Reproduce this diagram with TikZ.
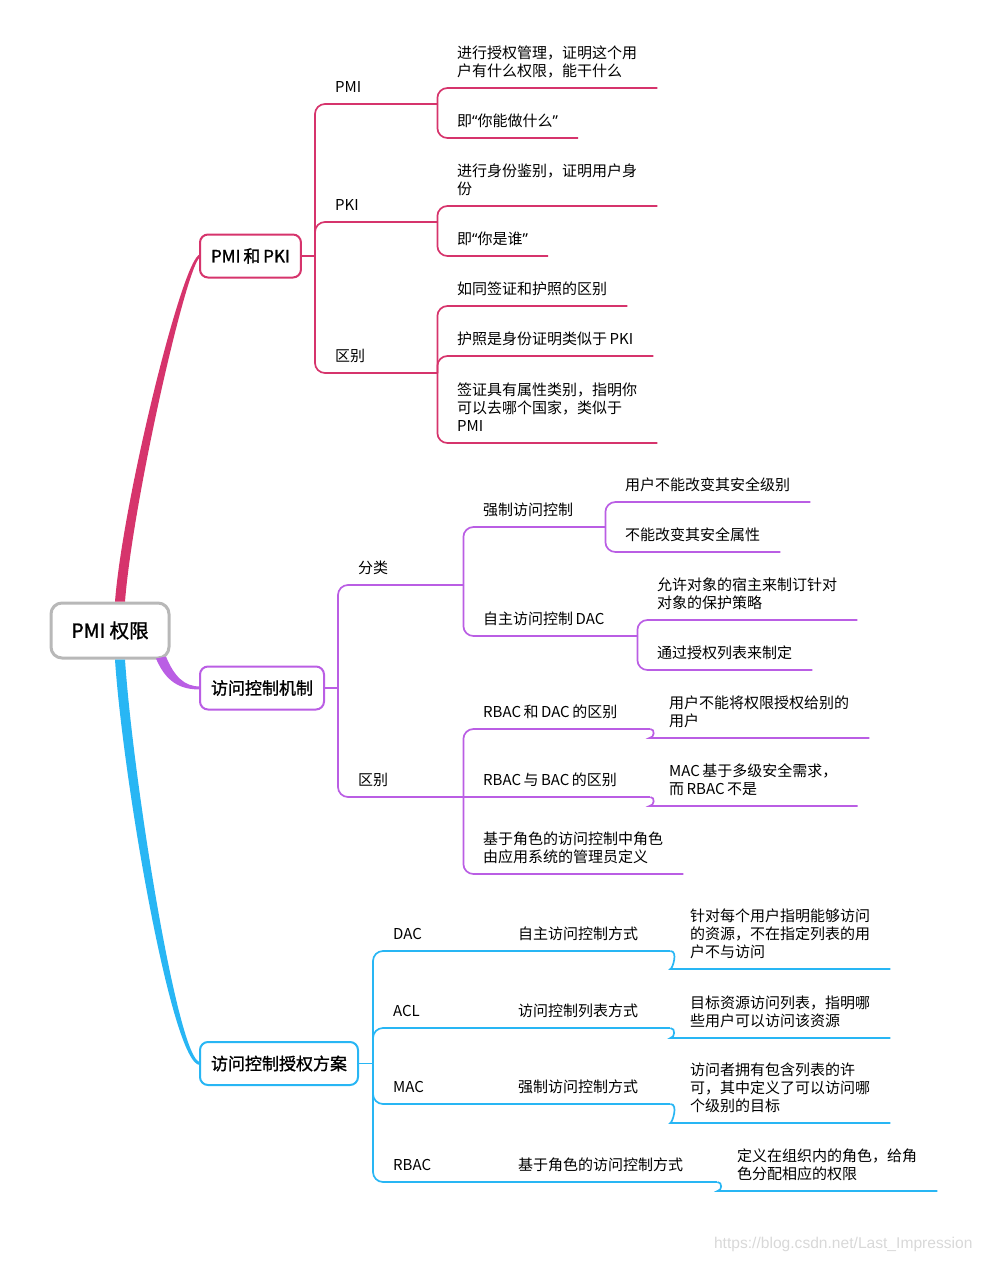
\documentclass[tikz,border=0pt]{standalone}
\usepackage{fontspec}
\setmainfont{Noto Sans CJK SC}
\newfontfamily\boxfont{Noto Sans CJK SC}[FakeBold=1.2]
\newfontfamily\qfont{Noto Sans}
\newfontfamily\wmfont{Liberation Sans}
\usetikzlibrary{calc}

\definecolor{pinkc}{RGB}{214,52,108}
\definecolor{purpc}{RGB}{186,94,228}
\definecolor{bluec}{RGB}{40,182,244}
\definecolor{rootc}{RGB}{184,184,184}
\definecolor{wmc}{RGB}{216,216,216}

\tikzset{
  leaf/.style={anchor=south west, inner xsep=20pt, inner ysep=5.5pt, align=left,
    font=\fontsize{15}{18}\selectfont, execute at end node=\strut},
  topic/.style={leaf, text width=#1},
  mainbox/.style={draw=#1, line width=2pt, rounded corners=8pt, fill=white, anchor=west,
    minimum height=43pt, inner xsep=11pt, font=\boxfont\fontsize{17}{20}\selectfont},
  link/.style={draw=#1, line width=1.7pt, rounded corners=10pt},
}

\begin{document}
\begin{tikzpicture}[x=1pt, y=-1pt]
\useasboundingbox (0,0) rectangle (985,1262);

% Root and main branches
\node[draw=rootc, line width=3pt, rounded corners=11pt, fill=white, minimum width=118pt,
  minimum height=55pt, font=\boxfont\fontsize{19.5}{22}\selectfont] (root) at (110,630.5) {PMI 权限};
\node[mainbox=pinkc] (pmipki) at (199,256) {PMI\,和\,PKI};
\node[mainbox=purpc] (acm) at (199,688) {访问控制机制};
\node[mainbox=bluec] (acs) at (199,1063.5) {访问控制授权方案};

\fill[pinkc] ($(root.north)+(5,0)$) .. controls (123,500) and (183,256) .. ($(pmipki.west)+(1,-1.5)$)
  -- ($(pmipki.west)+(1,1.5)$) .. controls (187,263) and (133,500) .. ($(root.north)+(15,0)$) -- cycle;
\fill[purpc] ($(root.south)+(46,-1)$) .. controls (166,682) and (180,689.5) .. ($(acm.west)+(1,1.5)$)
  -- ($(acm.west)+(1,-1.5)$) .. controls (184,686.5) and (174,676) .. ($(root.south)+(56,-3)$) -- cycle;
\fill[bluec] ($(root.south)+(5,0)$) .. controls (123,780) and (172,1066) .. ($(acs.west)+(1,1.5)$)
  -- ($(acs.west)+(1,-1.5)$) .. controls (178,1061) and (133,780) .. ($(root.south)+(15,0)$) -- cycle;

% PMI和PKI
\node[topic=82pt] (pmi) at (315,104) {PMI};
\node[topic=82pt] (pki) at (315,222) {PKI};
\node[topic=82pt] (qb1) at (315,373) {区别};
\node[leaf] (pmia) at (437,88) {进行授权管理，证明这个用\\户有什么权限，能干什么};
\node[leaf] (pmib) at (437,138) {即{\qfont “}你能做什么{\qfont ”}};
\node[leaf] (pkia) at (437,206) {进行身份鉴别，证明用户身\\份};
\node[leaf] (pkib) at (437,256) {即{\qfont “}你是谁{\qfont ”}};
\node[leaf] (qba) at (437,306) {如同签证和护照的区别};
\node[leaf] (qbb) at (437,356) {护照是身份证明类似于\,PKI};
\node[leaf] (qbc) at (437,443) {签证具有属性类别，指明你\\可以去哪个国家，类似于\\PMI};

\draw[link=pinkc] (pmipki.east) -- (pmipki.east -| pmi.south west);
\foreach \n in {pmi,pki,qb1}
    \draw[link=pinkc] (pmipki.east -| pmi.south west) |- (\n.south east);
\foreach \n in {pmia,pmib}
    \draw[link=pinkc] (pmi.south east) |- (\n.south east);
\foreach \n in {pkia,pkib}
    \draw[link=pinkc] (pki.south east) |- (\n.south east);
\foreach \n in {qba,qbb,qbc}
    \draw[link=pinkc] (qb1.south east) |- (\n.south east);

% 访问控制机制
\node[topic=85pt] (fl) at (338,585) {分类};
\node[topic=85pt] (qb2) at (338,797) {区别};
\node[topic=102pt] (qz) at (463,527) {强制访问控制};
\node[topic=134pt] (zz) at (463,636) {自主访问控制\,DAC};
\node[leaf] (qza) at (605,502) {用户不能改变其安全级别};
\node[leaf] (qzb) at (605,552) {不能改变其安全属性};
\node[leaf] (zza) at (637,620) {允许对象的宿主来制订针对\\对象的保护策略};
\node[leaf] (zzb) at (637,670) {通过授权列表来制定};
\node[topic=147pt] (rd) at (463,729) {RBAC\,和\,DAC\,的区别};
\node[topic=147pt] (rb) at (463,797) {RBAC\,与\,BAC\,的区别};
\node[leaf] (jy) at (463,874) {基于角色的访问控制中角色\\由应用系统的管理员定义};
\node[leaf] (rda) at (649,738) {用户不能将权限授权给别的\\用户};
\node[leaf] (rba) at (649,806) {MAC\,基于多级安全需求，\\而\,RBAC\,不是};

\draw[link=purpc] (acm.east) -- (acm.east -| fl.south west);
\foreach \n in {fl,qb2}
    \draw[link=purpc] (acm.east -| fl.south west) |- (\n.south east);
\foreach \n in {qz,zz}
    \draw[link=purpc] (fl.south east) |- (\n.south east);
\foreach \n in {qza,qzb}
    \draw[link=purpc] (qz.south east) |- (\n.south east);
\foreach \n in {zza,zzb}
    \draw[link=purpc] (zz.south east) |- (\n.south east);
\foreach \n in {rd,jy}
    \draw[link=purpc] (qb2.south east) |- (\n.south east);
\draw[link=purpc] (qb2.south east) -- (rb.south east);
\foreach \a/\b in {rd/rda,rb/rba}
    \draw[link=purpc] (\a.south east) to[out=0,in=180] ($(\a.south east |- \b.south west)+(9,0)$) -- (\b.south east);

% 访问控制授权方案
\node[topic=85pt] (dac) at (373,951) {DAC};
\node[topic=85pt] (acl) at (373,1028) {ACL};
\node[topic=85pt] (mac) at (373,1104) {MAC};
\node[topic=85pt] (rbac) at (373,1182) {RBAC};
\node[topic=132pt] (dacf) at (498,951) {自主访问控制方式};
\node[topic=132pt] (aclf) at (498,1028) {访问控制列表方式};
\node[topic=132pt] (macf) at (498,1104) {强制访问控制方式};
\node[topic=179pt] (rbacf) at (498,1182) {基于角色的访问控制方式};
\node[leaf] (daca) at (670,969) {针对每个用户指明能够访问\\的资源，不在指定列表的用\\户不与访问};
\node[leaf] (acla) at (670,1038) {目标资源访问列表，指明哪\\些用户可以访问该资源};
\node[leaf] (maca) at (670,1123) {访问者拥有包含列表的许\\可，其中定义了可以访问哪\\个级别的目标};
\node[leaf] (rbaca) at (717,1191) {定义在组织内的角色，给角\\色分配相应的权限};

\draw[link=bluec] (acs.east) -- (acs.east -| dac.south west);
\foreach \n in {dac,acl,mac,rbac}
    \draw[link=bluec] (acs.east -| dac.south west) |- (\n.south east);
\foreach \a/\b in {dac/dacf,acl/aclf,mac/macf,rbac/rbacf}
    \draw[link=bluec] (\a.south east) -- (\b.south east);
\foreach \a/\b in {dacf/daca,aclf/acla,macf/maca,rbacf/rbaca}
    \draw[link=bluec] (\a.south east) to[out=0,in=180] ($(\a.south east |- \b.south west)+(10,0)$) -- (\b.south east);

% watermark
\node[anchor=east, text=wmc, font=\wmfont\fontsize{15.6}{18}\selectfont] (wm) at (976,1244) {https://blog.csdn.net/Last\_Impression};
\end{tikzpicture}
\end{document}
